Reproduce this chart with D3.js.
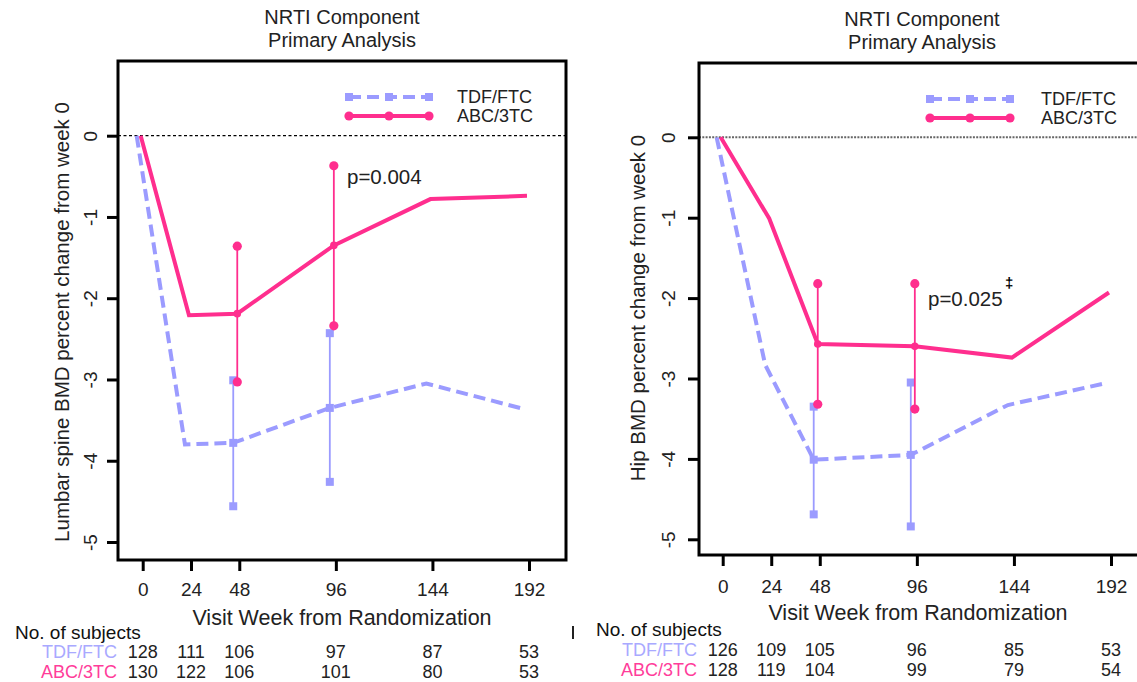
<!DOCTYPE html>
<html>
<head>
<meta charset="utf-8">
<script src="https://cdn.jsdelivr.net/npm/d3@7/dist/d3.min.js"></script>
<style>
  html, body { margin: 0; padding: 0; background: #fff; }
  svg { display: block; font-family: "Liberation Sans", Arial, sans-serif; }
</style>
</head>
<body>
<svg id="chart" width="1137" height="682"></svg>
<script>
// Visit weeks (x axis) and y axis tick values
const weeks = [0, 24, 48, 96, 144, 192];
const yTicks = [0, -1, -2, -3, -4, -5];
const groups = ["TDF/FTC", "ABC/3TC"];

// Lumbar spine BMD, mean % change from week 0
const spineTdf = [0, -3.80, -3.78, -3.35, -3.05, -3.36];
const spineAbc = [0, -2.21, -2.19, -1.35, -0.78, -0.74];
// 95% confidence intervals at weeks 48 and 96
const ciWeeks = [48, 96];
const spineTdfLo = [-4.56, -4.26];
const spineTdfHi = [-3.01, -2.43];
const spineAbcLo = [-3.03, -2.34];
const spineAbcHi = [-1.36, -0.37];
const spinePValue = "p=0.004";

// Hip BMD, mean % change from week 0
const hipTdf = [0, -2.83, -4.01, -3.95, -3.33, -3.06];
const hipAbc = [0, -1.01, -2.57, -2.60, -2.74, -1.93];
const hipTdfLo = [-4.69, -4.84];
const hipTdfHi = [-3.35, -3.05];
const hipAbcLo = [-3.32, -3.38];
const hipAbcHi = [-1.82, -1.82];
const hipPValue = "p=0.025";

// Number of subjects at each visit
const spineNTdf = [128, 111, 106, 97, 87, 53];
const spineNAbc = [130, 122, 106, 101, 80, 53];
const hipNTdf = [126, 109, 105, 96, 85, 53];
const hipNAbc = [128, 119, 104, 99, 79, 54];

const COL_TDF = "#9b9bff";
const COL_ABC = "#ff2e8e";
const COL_TDF_TXT = "#a9a9ff";
const COL_ABC_TXT = "#ff3d9a";
// small horizontal offsets (in weeks) so the two groups' bars don't overlap
const DODGE = { tdf: -3, abc: -1 };

const svg = d3.select("#chart");

function drawPanel(p) {
  const g = svg.append("g");
  const x = d3.scaleLinear().domain([0, 192]).range(p.xRange);
  const y = d3.scaleLinear().domain([-5, 0]).range(p.yRange);

  // titles
  g.append("text").attr("x", p.titleX).attr("y", p.titleY)
    .attr("text-anchor", "middle").attr("font-size", 20).attr("fill", "#222")
    .text("NRTI Component");
  g.append("text").attr("x", p.titleX).attr("y", p.titleY + 23)
    .attr("text-anchor", "middle").attr("font-size", 20).attr("fill", "#222")
    .text("Primary Analysis");

  // zero reference line
  g.append("line")
    .attr("x1", p.frame[0]).attr("x2", p.frame[2])
    .attr("y1", y(0)).attr("y2", y(0))
    .attr("stroke", p.zeroColor).attr("stroke-width", p.zeroWidth)
    .attr("stroke-dasharray", p.zeroDash);

  // y axis
  const yAxis = d3.axisLeft(y).tickValues(yTicks).tickSize(11).tickFormat(d => String(d));
  const ya = g.append("g").attr("transform", `translate(${p.frame[0]},0)`).call(yAxis);
  ya.select(".domain").remove();
  ya.selectAll(".tick line").attr("stroke", "#000").attr("stroke-width", 3);
  ya.selectAll(".tick text")
    .attr("font-size", 19).attr("fill", "#222")
    .attr("font-family", "Liberation Sans, Arial, sans-serif")
    .attr("x", null).attr("dy", null)
    .attr("text-anchor", "middle")
    .attr("transform", d => `translate(${p.yTickLabelX - p.frame[0] + 7},0) rotate(-90)`);

  // x axis
  const xAxis = d3.axisBottom(x).tickValues(weeks).tickSize(11).tickFormat(d => String(d));
  const xa = g.append("g").attr("transform", `translate(0,${p.frame[3]})`).call(xAxis);
  xa.select(".domain").remove();
  xa.selectAll(".tick line").attr("stroke", "#000").attr("stroke-width", 3);
  xa.selectAll(".tick text")
    .attr("font-size", 19).attr("fill", "#222")
    .attr("font-family", "Liberation Sans, Arial, sans-serif")
    .attr("y", p.xTickLabelY - p.frame[3]).attr("dy", "0.35em");

  // frame
  g.append("rect")
    .attr("x", p.frame[0]).attr("y", p.frame[1])
    .attr("width", p.frame[2] - p.frame[0]).attr("height", p.frame[3] - p.frame[1])
    .attr("fill", "none").attr("stroke", "#000").attr("stroke-width", 3);

  // axis titles
  g.append("text").attr("x", p.xTitle[0]).attr("y", p.xTitle[1]).attr("dy", "0.35em")
    .attr("text-anchor", "middle").attr("font-size", 21.5).attr("fill", "#222")
    .text("Visit Week from Randomization");
  g.append("text")
    .attr("transform", `translate(${p.yTitle[0]},${p.yTitle[1]}) rotate(-90)`)
    .attr("dy", "0.35em")
    .attr("text-anchor", "middle").attr("font-size", 20.5).attr("fill", "#222")
    .text(p.yLabel);

  // series lines
  const line = off => d3.line().x(d => x(d.w + off)).y(d => y(d.v));
  const tdfPts = weeks.map((w, i) => ({ w, v: p.tdf[i] }));
  const abcPts = weeks.map((w, i) => ({ w, v: p.abc[i] }));

  g.append("path").datum(tdfPts).attr("d", line(DODGE.tdf))
    .attr("fill", "none").attr("stroke", COL_TDF).attr("stroke-width", 4)
    .attr("stroke-dasharray", "12,6");
  g.append("path").datum(abcPts).attr("d", line(DODGE.abc))
    .attr("fill", "none").attr("stroke", COL_ABC).attr("stroke-width", 4)
    .attr("stroke-linejoin", "miter");

  // confidence intervals + markers at CI weeks
  ciWeeks.forEach((w, i) => {
    const xt = x(w + DODGE.tdf);
    const xb = x(w + DODGE.abc);
    const vt = p.tdf[weeks.indexOf(w)];
    const vb = p.abc[weeks.indexOf(w)];
    // TDF/FTC bar
    g.append("line").attr("x1", xt).attr("x2", xt)
      .attr("y1", y(p.tdfLo[i])).attr("y2", y(p.tdfHi[i]))
      .attr("stroke", COL_TDF).attr("stroke-width", 1.8);
    [p.tdfLo[i], p.tdfHi[i]].forEach(v => {
      g.append("rect").attr("x", xt - 4).attr("y", y(v) - 4)
        .attr("width", 8).attr("height", 8).attr("fill", COL_TDF);
    });
    g.append("rect").attr("x", xt - 4).attr("y", y(vt) - 4)
      .attr("width", 8).attr("height", 8).attr("fill", COL_TDF);
    // ABC/3TC bar
    g.append("line").attr("x1", xb).attr("x2", xb)
      .attr("y1", y(p.abcLo[i])).attr("y2", y(p.abcHi[i]))
      .attr("stroke", COL_ABC).attr("stroke-width", 1.8);
    [p.abcLo[i], p.abcHi[i]].forEach(v => {
      g.append("circle").attr("cx", xb).attr("cy", y(v)).attr("r", 4.6).attr("fill", COL_ABC);
    });
    g.append("circle").attr("cx", xb).attr("cy", y(vb)).attr("r", 3.8).attr("fill", COL_ABC);
  });

  // p-value annotation
  g.append("text").attr("x", p.pText[0]).attr("y", p.pText[1]).attr("dy", "0.35em")
    .attr("font-size", 20.5).attr("fill", "#222").text(p.pValue);
  if (p.dagger) {
    g.append("text").attr("x", p.dagger[0]).attr("y", p.dagger[1]).attr("dy", "0.35em")
      .attr("font-size", 15).attr("font-weight", "bold").attr("fill", "#000").text("\u2021");
  }

  // legend
  const lg = g.append("g");
  [[COL_TDF, "12,6", "square", p.legend[1]], [COL_ABC, null, "circle", p.legend[1] + 19]].forEach((s, k) => {
    const [col, dash, shape, ly] = s;
    const x0 = p.legend[0], x1 = p.legend[0] + 80;
    lg.append("line").attr("x1", x0).attr("x2", x1).attr("y1", ly).attr("y2", ly)
      .attr("stroke", col).attr("stroke-width", 4).attr("stroke-dasharray", dash);
    [x0, (x0 + x1) / 2, x1].forEach(mx => {
      if (shape === "square") {
        lg.append("rect").attr("x", mx - 4).attr("y", ly - 4).attr("width", 8).attr("height", 8).attr("fill", col);
      } else {
        lg.append("circle").attr("cx", mx).attr("cy", ly).attr("r", 4.6).attr("fill", col);
      }
    });
    lg.append("text").attr("x", p.legend[2]).attr("y", ly).attr("dy", "0.35em")
      .attr("font-size", 18).attr("fill", "#222").text(groups[k]);
  });

  // number of subjects table
  g.append("text").attr("x", p.nTitle[0]).attr("y", p.nTitle[1]).attr("dy", "0.35em")
    .attr("font-size", 19).attr("fill", "#111").text("No. of subjects");
  [[p.nTdf, COL_TDF_TXT, p.nRows[0]], [p.nAbc, COL_ABC_TXT, p.nRows[1]]].forEach((r, k) => {
    const [vals, col, ry] = r;
    g.append("text").attr("x", p.nLabelX).attr("y", ry).attr("dy", "0.35em")
      .attr("text-anchor", "end").attr("font-size", p.nFont).attr("fill", col).text(groups[k]);
    g.selectAll(null).data(vals).enter().append("text")
      .attr("x", (d, i) => x(weeks[i])).attr("y", ry).attr("dy", "0.35em")
      .attr("text-anchor", "middle").attr("font-size", p.nFont).attr("fill", "#222")
      .text(d => d);
  });
  return g;
}

drawPanel({
  frame: [118, 61, 566, 560],
  xRange: [142.7, 529], yRange: [542, 135.7],
  titleX: 342, titleY: 24,
  zeroColor: "#000", zeroWidth: 1.2, zeroDash: "3,2.5",
  yTickLabelX: 90, xTickLabelY: 589,
  xTitle: [342, 617], yTitle: [62, 322],
  yLabel: "Lumbar spine BMD percent change from week 0",
  tdf: spineTdf, abc: spineAbc,
  tdfLo: spineTdfLo, tdfHi: spineTdfHi, abcLo: spineAbcLo, abcHi: spineAbcHi,
  pValue: spinePValue, pText: [347, 177],
  legend: [349, 97, 457],
  nTitle: [15, 632], nRows: [652, 672], nLabelX: 117, nFont: 18,
  nTdf: spineNTdf, nAbc: spineNAbc
});

drawPanel({
  frame: [699, 63, 1146, 555],
  xRange: [722.7, 1111], yRange: [539.3, 137.3],
  titleX: 922, titleY: 26,
  zeroColor: "#666", zeroWidth: 2, zeroDash: "2,1.3",
  yTickLabelX: 668, xTickLabelY: 586,
  xTitle: [918, 612], yTitle: [638, 308],
  yLabel: "Hip BMD percent change from week 0",
  tdf: hipTdf, abc: hipAbc,
  tdfLo: hipTdfLo, tdfHi: hipTdfHi, abcLo: hipAbcLo, abcHi: hipAbcHi,
  pValue: hipPValue, pText: [928, 299], dagger: [1005, 283],
  legend: [930, 99, 1041],
  nTitle: [596, 629], nRows: [650, 670], nLabelX: 697, nFont: 18,
  nTdf: hipNTdf, nAbc: hipNAbc
});

// short separator mark between the two tables
svg.append("line").attr("x1", 573).attr("x2", 573).attr("y1", 626).attr("y2", 639)
  .attr("stroke", "#222").attr("stroke-width", 2);
</script>
</body>
</html>
